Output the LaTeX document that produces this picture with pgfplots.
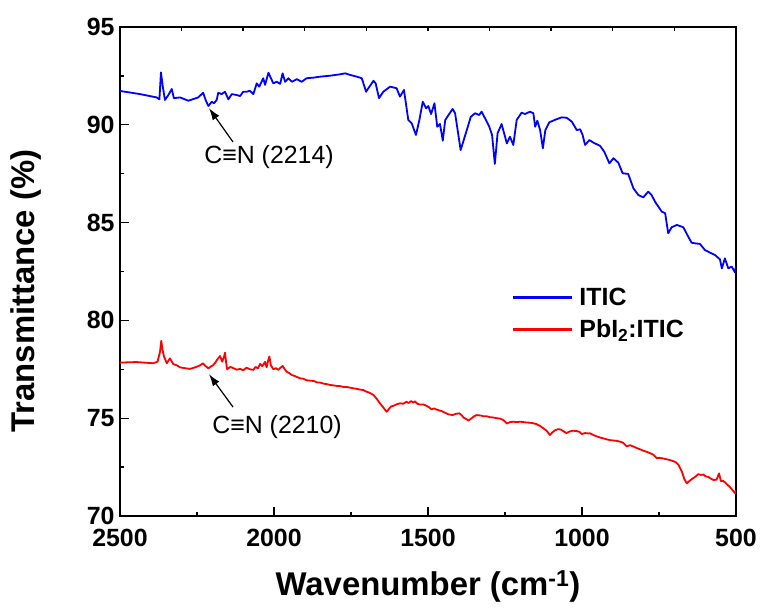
\documentclass[border=0pt]{standalone}
\usepackage{fontspec}
\setmainfont{Liberation Sans}
\usepackage{pgfplots}
\pgfplotsset{compat=1.18}
\usetikzlibrary{arrows.meta}
\definecolor{cblue}{RGB}{0,0,255}
\definecolor{cred}{RGB}{255,0,0}
\pgfplotstableread{
x y
2500 91.73
2435 91.57
2381 91.40
2372 91.30
2367 92.68
2361 91.95
2354 91.27
2343 91.52
2332 91.83
2325 91.36
2305 91.40
2278 91.23
2246 91.40
2230 91.64
2222 91.27
2213 90.96
2202 91.18
2195 91.10
2186 91.27
2181 91.64
2170 91.57
2159 91.69
2148 91.30
2137 91.57
2121 91.52
2110 91.47
2100 91.69
2089 91.69
2078 91.74
2067 91.57
2056 92.12
2048 91.95
2035 92.38
2029 92.04
2018 92.66
2010 92.38
2002 92.12
1991 92.20
1980 92.09
1972 92.63
1964 92.20
1953 92.38
1942 92.20
1926 92.33
1910 92.20
1894 92.38
1872 92.41
1851 92.46
1818 92.51
1786 92.58
1769 92.63
1753 92.55
1731 92.46
1715 92.38
1701 91.69
1690 91.95
1677 92.25
1670 92.12
1659 91.36
1645 91.69
1623 91.95
1602 91.87
1591 91.44
1578 91.78
1564 90.25
1553 90.08
1539 89.48
1528 90.25
1517 91.18
1506 90.84
1499 90.96
1490 90.55
1479 91.10
1470 89.90
1461 90.04
1452 89.19
1444 90.25
1420 90.81
1412 90.59
1394 88.71
1374 89.73
1361 90.41
1347 90.59
1334 90.50
1326 90.67
1312 90.25
1301 89.90
1292 89.48
1283 88.00
1274 89.57
1261 90.04
1244 89.05
1234 89.39
1223 88.97
1212 90.25
1196 90.62
1185 90.55
1169 90.67
1158 90.59
1152 89.90
1145 90.21
1136 89.73
1127 88.80
1119 89.73
1106 90.13
1088 90.25
1066 90.38
1050 90.36
1033 90.16
1017 89.73
1006 89.77
998 89.48
990 88.97
976 89.22
963 89.09
941 88.92
928 88.63
911 88.03
898 88.29
882 88.06
868 87.52
850 87.49
833 86.75
817 86.41
801 86.29
785 86.58
774 86.41
763 86.07
741 85.56
730 85.48
720 84.45
709 84.76
692 84.88
671 84.76
655 84.28
644 83.97
633 83.94
617 83.91
601 83.60
584 83.46
568 83.34
552 83.12
546 82.66
536 83.17
525 82.66
514 82.75
503 82.45
500 82.80
}\itic
\pgfplotstableread{
x y
2500 77.84
2470 77.86
2446 77.87
2420 77.84
2392 77.81
2378 77.89
2370 78.40
2366 78.96
2362 78.50
2357 78.15
2348 77.81
2338 78.06
2327 77.77
2315 77.70
2305 77.60
2290 77.56
2273 77.52
2260 77.58
2251 77.63
2240 77.70
2231 77.81
2222 77.66
2213 77.55
2205 77.64
2197 77.72
2190 77.85
2184 78.01
2175 78.18
2168 77.89
2163 78.10
2159 78.35
2155 77.80
2152 77.50
2142 77.62
2132 77.56
2121 77.48
2110 77.52
2100 77.45
2089 77.58
2078 77.50
2067 77.47
2060 77.62
2052 77.55
2045 77.78
2038 77.66
2029 77.88
2024 77.60
2019 77.95
2015 78.15
2010 77.70
2002 77.50
1994 77.56
1986 77.47
1979 77.58
1972 77.67
1965 77.50
1959 77.38
1950 77.30
1942 77.21
1930 77.14
1916 77.04
1905 77.02
1895 76.94
1883 76.92
1870 76.90
1860 76.83
1850 76.82
1840 76.77
1828 76.74
1818 76.70
1808 76.68
1796 76.65
1785 76.64
1775 76.60
1765 76.60
1753 76.56
1740 76.52
1730 76.50
1720 76.46
1710 76.44
1700 76.36
1690 76.30
1677 76.19
1666 75.98
1656 75.76
1645 75.55
1638 75.40
1634 75.33
1628 75.45
1620 75.60
1613 75.63
1600 75.72
1591 75.76
1580 75.74
1570 75.84
1562 75.78
1555 75.88
1548 75.80
1542 75.86
1535 75.74
1526 75.70
1515 75.70
1504 75.63
1496 75.55
1488 75.45
1480 75.50
1472 75.44
1464 75.40
1455 75.36
1445 75.28
1434 75.20
1420 75.16
1410 75.22
1398 75.25
1390 75.14
1385 75.04
1375 74.95
1369 74.88
1360 74.98
1350 75.10
1342 75.16
1330 75.14
1320 75.10
1309 75.10
1299 75.05
1290 75.04
1277 75.00
1266 74.98
1255 74.90
1244 74.73
1234 74.80
1223 74.82
1212 74.80
1201 74.82
1190 74.80
1180 74.78
1169 74.77
1158 74.74
1148 74.70
1136 74.60
1125 74.48
1115 74.36
1108 74.22
1104 74.14
1096 74.28
1088 74.38
1078 74.44
1069 74.42
1060 74.33
1050 74.24
1040 74.32
1030 74.36
1017 74.34
1008 74.30
1001 74.19
990 74.24
980 74.22
974 74.23
963 74.14
950 74.06
941 74.01
931 73.97
920 73.92
909 73.88
898 73.86
887 73.84
876 73.80
866 73.74
855 73.56
844 73.62
833 73.55
820 73.46
810 73.40
801 73.34
790 73.28
780 73.22
768 73.13
757 72.96
747 72.97
736 72.94
725 72.90
714 72.86
703 72.80
695 72.74
687 72.62
676 72.28
668 71.90
660 71.67
652 71.78
644 71.88
633 72.00
622 72.14
614 72.10
606 72.12
598 72.02
590 72.00
584 71.93
573 71.84
563 71.86
555 72.18
549 71.78
542 71.80
536 71.72
528 71.60
519 71.47
510 71.30
503 71.16
500 71.32
}\pbitic
\begin{document}
\begin{tikzpicture}
\begin{axis}[
  at={(0,0)}, anchor=south west,
  scale only axis, width=616bp, height=489bp,
  xmin=500, xmax=2500, x dir=reverse,
  ymin=70, ymax=95,
  xtick={500,1000,...,2500}, ytick={70,75,...,95},
  minor x tick num=1, minor y tick num=1,
  xtick pos=bottom, ytick pos=left,
  tick align=inside,
  major tick length=9bp, minor tick length=4.5bp,
  every tick/.style={black, line width=1.4bp},
  axis line style={line width=2bp},
  /pgf/number format/assume math mode=true,
  /pgf/number format/1000 sep={},
  tick label style={font=\bfseries\fontsize{25}{28}\selectfont},
  xticklabel style={yshift=-10bp},
  yticklabel style={xshift=-2bp},
  xlabel={\textbf{Wavenumber (cm\textsuperscript{-1})}},
  ylabel={\textbf{Transmittance (\%)}},
  label style={font=\bfseries\fontsize{33}{36}\selectfont},
  xlabel style={at={(axis description cs:0.5,-0.144)}, anchor=center},
  ylabel style={at={(axis description cs:-0.152,0.46)}, anchor=center},
  legend style={draw=none, fill=none, at={(axis description cs:0.633,0.475)}, anchor=north west,
    font=\bfseries\fontsize{25}{28}\selectfont, row sep=9bp},
  legend cell align=left,
]
\addplot[draw=cblue, line width=1.8bp, line join=round, forget plot] table[x=x,y=y] {\itic};
\addplot[draw=cred, line width=1.8bp, line join=round, forget plot] table[x=x,y=y] {\pbitic};
\addlegendimage{legend image code/.code={\fill[cblue] (0bp,-0.95bp) rectangle (58bp,0.95bp); \path (64bp,0bp);}}
\addlegendentry{ITIC}
\addlegendimage{legend image code/.code={\fill[cred] (0bp,-0.95bp) rectangle (58bp,0.95bp); \path (64bp,0bp);}}
\addlegendentry{PbI\textsubscript{2}:ITIC}
\draw[line width=1.2bp, -{Latex[length=12bp,width=8bp]}] (axis cs:2133,89.12) -- (axis cs:2211,90.85);
\node[font=\fontsize{25}{28}\selectfont] at (axis cs:2016,88.35) {C≡N (2214)};
\draw[line width=1.2bp, -{Latex[length=12bp,width=8bp]}] (axis cs:2133,75.57) -- (axis cs:2211,77.25);
\node[font=\fontsize{25}{28}\selectfont] at (axis cs:1990,74.55) {C≡N (2210)};
\end{axis}
\begin{axis}[
  at={(0,0)}, anchor=south west,
  scale only axis, width=616bp, height=489bp,
  xmin=500, xmax=2500, x dir=reverse,
  ymin=70, ymax=95,
  axis x line*=top, hide y axis,
  xtick={700,900,...,2300}, xticklabels={},
  tick align=inside, major tick length=4.5bp,
  every tick/.style={black, line width=1.4bp},
  axis line style={line width=2bp},
]
\addplot[draw=none] coordinates {(1000,80)};
\end{axis}
\pgfresetboundingbox
\path (-120bp,-93bp) rectangle (641bp,516bp);
\end{tikzpicture}
\end{document}
